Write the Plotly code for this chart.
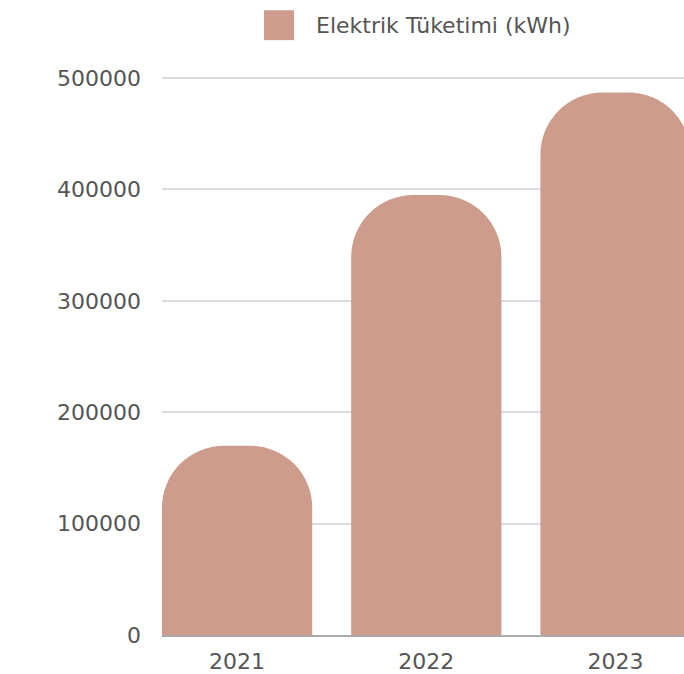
import plotly.graph_objects as go

years = ["2021", "2022", "2023"]
consumption = [170000, 395000, 487000]
series_name = "Elektrik Tüketimi (kWh)"
y_ticks = [0, 100000, 200000, 300000, 400000, 500000]

BAR = "#CE9C8C"
TXT = "#555555"
FONT = "DejaVu Sans"

fig = go.Figure()
fig.add_trace(go.Bar(
    x=years, y=consumption, name=series_name,
    marker=dict(color=BAR, cornerradius=62, line=dict(width=0)),
    showlegend=False,
))

fig.update_layout(
    width=684, height=674,
    margin=dict(l=162, r=0, t=77, b=37),
    paper_bgcolor="white", plot_bgcolor="white",
    bargap=0.206,
    font=dict(family=FONT, color=TXT, size=22),
    xaxis=dict(
        type="category", range=[-0.397, 2.362],
        showgrid=False, showline=True, linecolor="#aaaaaa", linewidth=1.5,
        ticks="", tickfont=dict(size=22, color=TXT), ticklabelstandoff=6,
    ),
    yaxis=dict(
        range=[0, 501000], tickvals=y_ticks, ticktext=[str(v) for v in y_ticks],
        showgrid=True, gridcolor="#dddddd", gridwidth=1.5,
        zeroline=False, ticks="", tickfont=dict(size=22, color=TXT),
        ticklabelstandoff=20,
    ),
    shapes=[dict(
        type="rect", xref="paper", yref="paper",
        x0=(264 - 162) / 522, x1=(294 - 162) / 522,
        y0=1 + (77 - 40) / 560, y1=1 + (77 - 10) / 560,
        fillcolor=BAR, line=dict(width=0),
    )],
    annotations=[dict(
        text=series_name, xref="paper", yref="paper",
        x=(314 - 162) / 522, y=1 + (77 - 25) / 560,
        xanchor="left", yanchor="middle", showarrow=False,
        font=dict(family=FONT, size=22, color=TXT),
    )],
)

fig.write_html(
    "out.html",
    config={"displayModeBar": False},
    post_script="document.body.style.margin='0';document.body.style.overflow='hidden';",
)
